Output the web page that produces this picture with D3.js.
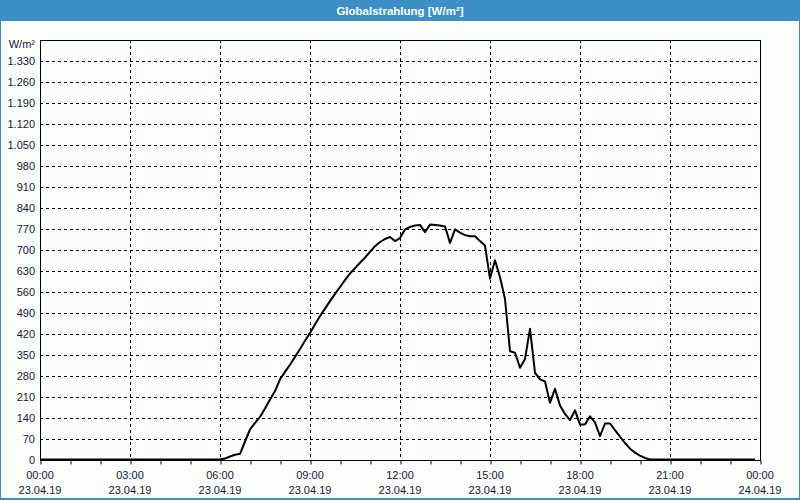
<!DOCTYPE html>
<html>
<head>
<meta charset="utf-8">
<script src="https://cdn.jsdelivr.net/npm/d3@7"></script>
<style>
  html, body { margin: 0; padding: 0; background: #fcfefc; }
  svg { display: block; }
</style>
</head>
<body>
<svg id="chart" width="800" height="500"></svg>
<script>
// ---- Data ----
const title = "Globalstrahlung [W/m²]";
const unitLabel = "W/m²";
const times = [
  "00:00","06:00","06:10","06:20","06:30","06:40","06:50",
  "07:00","07:10","07:20","07:30","07:40","07:50",
  "08:00","08:10","08:20","08:30","08:40","08:50",
  "09:00","09:10","09:20","09:30","09:40","09:50",
  "10:00","10:10","10:20","10:30","10:40","10:50",
  "11:00","11:10","11:20","11:30","11:40","11:50",
  "12:00","12:10","12:20","12:30","12:40","12:50",
  "13:00","13:10","13:20","13:30","13:40","13:50",
  "14:00","14:10","14:20","14:30","14:40","14:50",
  "15:00","15:10","15:20","15:30","15:40","15:50",
  "16:00","16:10","16:20","16:30","16:40","16:50",
  "17:00","17:10","17:20","17:30","17:40","17:50",
  "18:00","18:10","18:20","18:30","18:40","18:50",
  "19:00","19:10","19:20","19:30","19:40","19:50",
  "20:00","20:10","20:20","23:50"
];
const values = [
  0,0,3,10,16,19,60,
  100,122,142,170,200,228,
  267,292,316,342,368,396,
  422,450,478,503,528,552,
  575,598,620,638,656,673,
  692,711,725,735,742,728,
  738,767,775,780,782,758,
  783,782,780,777,722,767,
  756,748,744,744,728,713,
  603,664,608,535,361,356,
  306,335,436,289,267,260,
  189,236,180,152,131,164,
  117,117,144,124,78,120,
  120,98,76,55,36,23,
  13,5,0,0
];
const yTicks = [0,70,140,210,280,350,420,490,560,630,700,770,840,910,980,1050,1120,1190,1260,1330];
const yMax = 1400;
const xTickHours = [0,3,6,9,12,15,18,21,24];
const xTickTimes = ["00:00","03:00","06:00","09:00","12:00","15:00","18:00","21:00","00:00"];
const xTickDates = ["23.04.19","23.04.19","23.04.19","23.04.19","23.04.19","23.04.19","23.04.19","23.04.19","24.04.19"];

// ---- Layout ----
const W = 800, H = 500;
const plot = { left: 40, top: 40, right: 760, bottom: 460 };
const textColor = "#14163a";
const font = "'Liberation Sans', Arial, sans-serif";

const svg = d3.select("#chart");

// Window frame
svg.append("rect").attr("x", 0.5).attr("y", 0.5).attr("width", W - 1).attr("height", H - 1.5)
  .attr("fill", "#fcfefc").attr("stroke", "#3d8fc6").attr("stroke-width", 1);
svg.append("rect").attr("x", 0).attr("y", H - 2).attr("width", W).attr("height", 2).attr("fill", "#3d8fc6");
// Title bar
svg.append("rect").attr("x", 0).attr("y", 0).attr("width", W).attr("height", 21).attr("fill", "#3d8fc6");
svg.append("text").attr("x", 400).attr("y", 15).attr("text-anchor", "middle")
  .attr("fill", "#ffffff").attr("font-family", font).attr("font-weight", "bold").attr("font-size", 11.5)
  .text(title);

const x = d3.scaleLinear().domain([0, 24]).range([plot.left, plot.right]);
const y = d3.scaleLinear().domain([0, yMax]).range([plot.bottom, plot.top]);

const toHours = s => { const [h, m] = s.split(":").map(Number); return h + m / 60; };
const data = times.map((t, i) => ({ h: toHours(t), v: values[i] }));

// Horizontal gridlines
svg.append("g").selectAll("line").data(yTicks.filter(d => d > 0)).join("line")
  .attr("x1", plot.left).attr("x2", plot.right)
  .attr("y1", d => Math.round(y(d)) + 0.5).attr("y2", d => Math.round(y(d)) + 0.5)
  .attr("stroke", "#000").attr("stroke-width", 1).attr("stroke-dasharray", "3,3");

// Vertical gridlines
svg.append("g").selectAll("line").data(xTickHours.filter(d => d > 0 && d < 24)).join("line")
  .attr("x1", d => Math.round(x(d)) + 0.5).attr("x2", d => Math.round(x(d)) + 0.5)
  .attr("y1", plot.top).attr("y2", plot.bottom)
  .attr("stroke", "#000").attr("stroke-width", 1).attr("stroke-dasharray", "3,3");

// Plot frame
svg.append("rect").attr("x", plot.left + 0.5).attr("y", plot.top + 0.5)
  .attr("width", plot.right - plot.left).attr("height", plot.bottom - plot.top)
  .attr("fill", "none").attr("stroke", "#000").attr("stroke-width", 1);

// X axis ticks (hourly minor ticks below axis)
const xAxis = d3.axisBottom(x).tickValues(d3.range(0, 25, 1)).tickSize(4).tickFormat("");
const gx = svg.append("g").attr("transform", `translate(0.5,${plot.bottom + 0.5})`).call(xAxis);
gx.select(".domain").remove();
gx.selectAll("line").attr("stroke", "#000");

// X labels
const xl = svg.append("g").attr("font-family", font).attr("font-size", 11).attr("fill", textColor);
xl.selectAll("text.t").data(xTickHours).join("text").attr("class", "t")
  .attr("x", d => x(d)).attr("y", 479).attr("text-anchor", "middle").text((d, i) => xTickTimes[i]);
xl.selectAll("text.d").data(xTickHours).join("text").attr("class", "d")
  .attr("x", d => x(d)).attr("y", 494).attr("text-anchor", "middle").text((d, i) => xTickDates[i]);

// Y axis labels
const fmt = d => d3.format(",")(d).replace(/,/g, ".");
const yAxis = d3.axisLeft(y).tickValues(yTicks).tickSize(0).tickPadding(5).tickFormat(fmt);
const gy = svg.append("g").attr("transform", `translate(${plot.left},0)`).call(yAxis);
gy.select(".domain").remove();
gy.selectAll("text").attr("font-family", font).attr("font-size", 11).attr("fill", textColor);
svg.append("text").attr("x", 35).attr("y", y(yMax) + 8).attr("text-anchor", "end")
  .attr("font-family", font).attr("font-size", 11).attr("fill", textColor).text(unitLabel);

// Data line
const line = d3.line().x(d => x(d.h)).y(d => y(d.v) - 0.5);
svg.append("path").datum(data).attr("d", line)
  .attr("fill", "none").attr("stroke", "#000").attr("stroke-width", 2)
  .attr("stroke-linejoin", "round");
</script>
</body>
</html>
